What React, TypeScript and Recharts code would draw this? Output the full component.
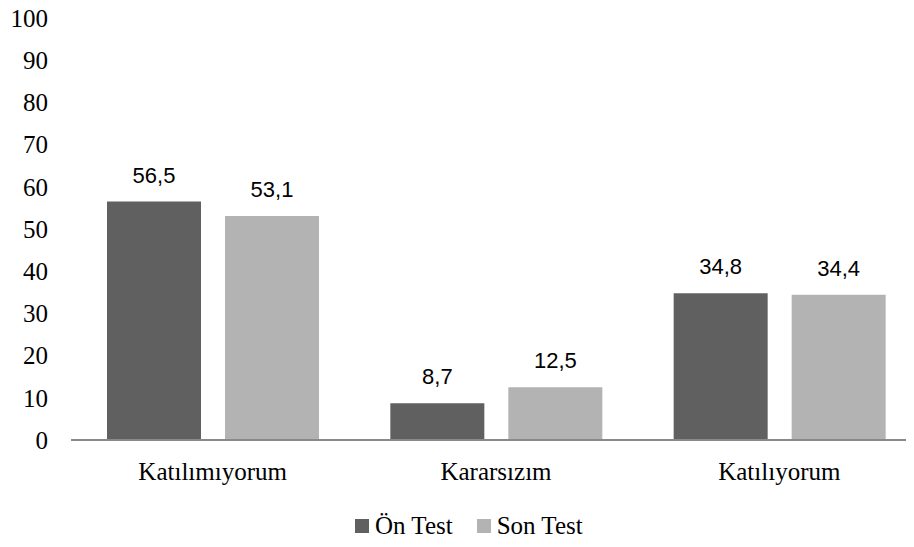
import React from 'react';
import { BarChart, Bar, XAxis, YAxis, Legend, LabelList } from 'recharts';

const categories = ['Katılımıyorum', 'Kararsızım', 'Katılıyorum'];
const seriesNames = ['Ön Test', 'Son Test'];
const onTest = [56.5, 8.7, 34.8];
const sonTest = [53.1, 12.5, 34.4];
const yTicks = [0, 10, 20, 30, 40, 50, 60, 70, 80, 90, 100];

const data = categories.map((c, i) => ({ name: c, on: onTest[i], son: sonTest[i] }));

const serif = '"Liberation Serif", "Times New Roman", Times, serif';
const sans = '"Liberation Sans", Arial, sans-serif';
const fmt = (v: any) => String(v).replace('.', ',');

const renderLegend = (props: any) => {
  const items = [...(props.payload || [])].sort(
    (a: any, b: any) => seriesNames.indexOf(a.value) - seriesNames.indexOf(b.value)
  );
  return (
    <div style={{ display: 'flex', alignItems: 'center', fontFamily: serif, fontSize: 25, color: '#000' }}>
      {items.map((p: any, i: number) => (
        <div key={i} style={{ display: 'flex', alignItems: 'center', marginRight: i === 0 ? 24 : 0 }}>
          <span style={{ display: 'inline-block', width: 14, height: 14, background: p.color, marginRight: 6 }} />
          <span style={{ whiteSpace: 'nowrap', fontFamily: serif }}>{p.value}</span>
        </div>
      ))}
    </div>
  );
};

export default function App() {
  return (
    <div style={{ marginLeft: -8, marginTop: -8, width: 914, height: 547, overflow: 'hidden', position: 'relative', background: '#fff', fontFamily: serif }}>
      <BarChart
        width={921}
        height={547}
        data={data}
        margin={{ top: 18, right: 0, left: 0, bottom: 47 }}
        barGap={24}
        barSize={94}
        style={{ fontFamily: serif }}
      >
        <XAxis
          dataKey="name"
          axisLine={{ stroke: '#898989', strokeWidth: 2 }}
          tickLine={false}
          tickSize={0}
          tickMargin={22}
          height={60}
          tick={{ fill: '#000', fontFamily: serif, fontSize: 25 }}
        />
        <YAxis
          domain={[0, 100]}
          ticks={yTicks}
          interval={0}
          width={71}
          axisLine={false}
          tickLine={false}
          tickSize={0}
          tickMargin={23}
          tick={{ fill: '#000', fontFamily: serif, fontSize: 25 }}
        />
        <Legend
          layout="horizontal"
          verticalAlign="middle"
          align="center"
          content={renderLegend}
          wrapperStyle={{ top: 512, left: 355, width: 300, height: 28 }}
        />
        <Bar dataKey="on" name={seriesNames[0]} fill="#606060" isAnimationActive={false}>
          <LabelList dataKey="on" position="top" offset={19} formatter={fmt} style={{ fill: '#000', fontFamily: sans, fontSize: 22 }} />
        </Bar>
        <Bar dataKey="son" name={seriesNames[1]} fill="#b3b3b3" isAnimationActive={false}>
          <LabelList dataKey="son" position="top" offset={19} formatter={fmt} style={{ fill: '#000', fontFamily: sans, fontSize: 22 }} />
        </Bar>
      </BarChart>
    </div>
  );
}
